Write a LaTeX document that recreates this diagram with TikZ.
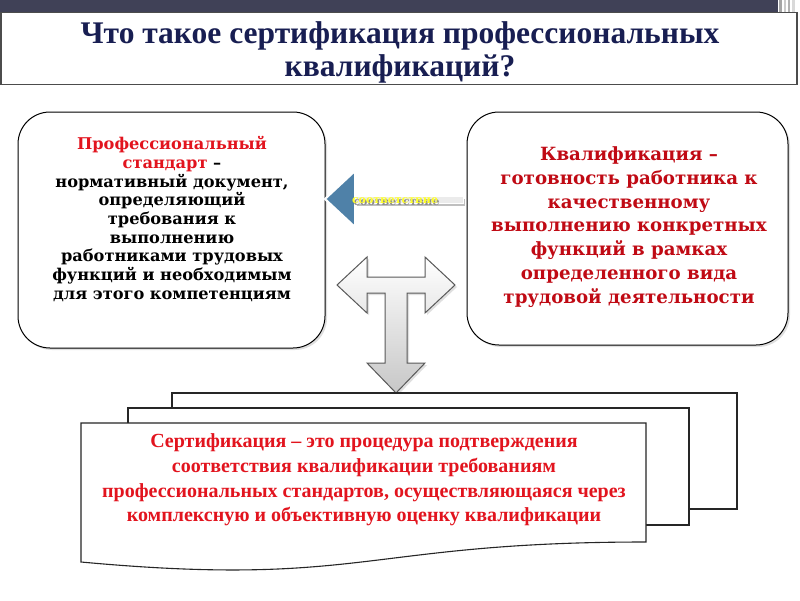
\documentclass[tikz,border=0pt]{standalone}
\usepackage{fontspec}
\setmainfont{Liberation Serif}
\newfontfamily\dvs{DejaVu Serif}
\usetikzlibrary{shadows}
\definecolor{barcol}{RGB}{64,65,87}
\definecolor{navy}{RGB}{24,30,82}
\definecolor{redA}{RGB}{226,20,30}
\definecolor{redB}{RGB}{192,10,20}
\definecolor{steel}{RGB}{79,129,168}
\definecolor{yel}{RGB}{255,255,40}
\tikzset{
  roundbox/.style={draw=black, line width=1pt, rounded corners=32pt, fill=white,
    drop shadow={shadow xshift=2pt, shadow yshift=-2pt, opacity=0.25}},
  docbox/.style={draw=black!85, line width=1.1pt, fill=white},
  titletxt/.style={font=\fontsize{31.5}{33}\selectfont\bfseries, text=navy, align=center},
  lefttxt/.style={font=\dvs\fontsize{16.2}{18.7}\selectfont\bfseries, align=center},
  righttxt/.style={font=\dvs\fontsize{18.2}{23.8}\selectfont\bfseries, text=redB, align=center},
  bottxt/.style={font=\fontsize{20}{24.8}\selectfont\bfseries, text=redA, align=center},
  tarrow/.style={draw=black!65, line width=1pt, top color=white, bottom color=black!22,
    drop shadow={shadow xshift=2pt, shadow yshift=-2pt, opacity=0.25}},
  corrtxt/.style={font=\dvs\fontsize{11}{12}\selectfont\bfseries, inner sep=0pt},
}
\begin{document}
\begin{tikzpicture}[x=1pt,y=-1pt]
\useasboundingbox (0,0) rectangle (800,600);
\fill[white] (0,0) rectangle (800,600);
% top bar
\fill[barcol] (0,0) rectangle (778,12);
\fill[black!35] (779,0) rectangle (782,12);
\fill[black!20] (784,0) rectangle (786,12);
\fill[black!30] (788,0) rectangle (790,12);
\fill[black!15] (792,0) rectangle (795,12);
% title box
\node[draw=black!70, line width=1.2pt, fill=white, minimum width=796pt, minimum height=72pt,
  inner sep=0pt] (titlebox) at (399,48.5) {};
\node[titletxt] (title) at (400,52) {Что такое сертификация профессиональных\\квалификаций?};
% rounded boxes
\node[roundbox, minimum width=307pt, minimum height=236pt, inner sep=0pt] (lbox) at (171.5,230) {};
\node[roundbox, minimum width=321pt, minimum height=233pt, inner sep=0pt] (rbox) at (627.5,228.5) {};
\node[lefttxt] (ltext) at (172,219) {\textcolor{redA}{Профессиональный}\\\textcolor{redA}{стандарт} –\\нормативный документ,\\определяющий\\требования к\\выполнению\\работниками трудовых\\функций и необходимым\\для этого компетенциям};
\node[righttxt] (rtext) at (629,227) {Квалификация –\\готовность работника к\\качественному\\выполнению конкретных\\функций в рамках\\определенного вида\\трудовой деятельности};
% blue arrow
\fill[black!25] (357,199) rectangle (465,206);
\draw[white, line width=1pt, fill=black!8] (355,196) rectangle (463,203);
\draw[white, line width=2pt, fill=steel, line join=miter] (325,199) -- (355,171) -- (355,227) -- cycle;
\node[corrtxt, text=black!45] (corrs) at (396.5,202.5) {соответствие};
\node[corrtxt, text=yel] (corr) at (395,201) {соответствие};
% T arrow
\path[tarrow] (337,285) -- (367,257) -- (367,277) -- (425,277) -- (425,257) -- (455,285)
  -- (425,313) -- (425,293) -- (407,293) -- (407,363) -- (425,363) -- (396,393)
  -- (367,363) -- (385,363) -- (385,293) -- (367,293) -- (367,313) -- cycle;
% documents
\draw[docbox] (172,393) rectangle (737,509);
\draw[docbox] (128,408) rectangle (689,525);
\draw[docbox] (81,423) -- (646,423) -- (646,542) .. controls (363.5,542) and (363.5,588) .. (81,562) -- cycle;
\node[bottxt] (btext) at (364,480) {Сертификация – это процедура подтверждения\\соответствия квалификации требованиям\\профессиональных стандартов, осуществляющаяся через\\комплексную и объективную оценку квалификации};
\end{tikzpicture}
\end{document}
